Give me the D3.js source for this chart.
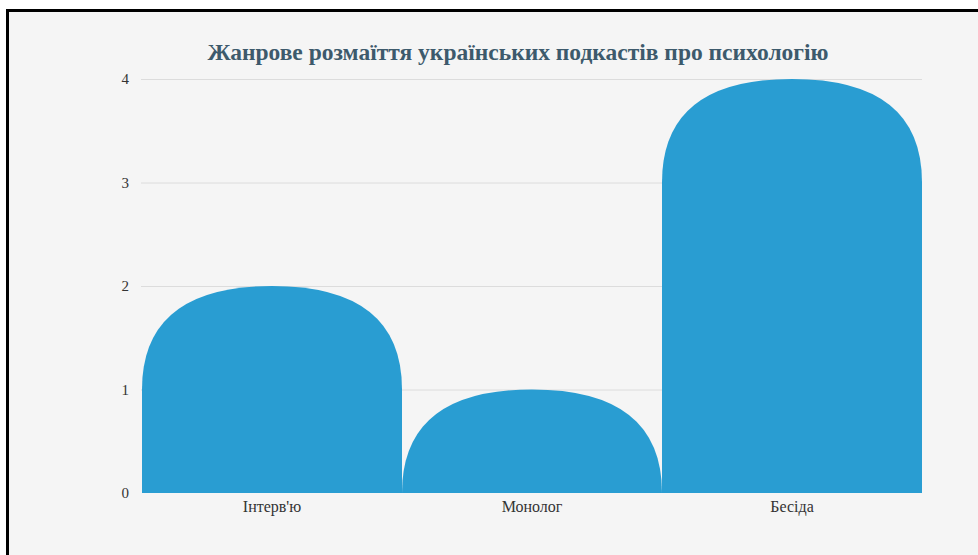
<!DOCTYPE html>
<html>
<head>
<meta charset="utf-8">
<script src="https://cdn.jsdelivr.net/npm/d3@7"></script>
<style>
  html, body { margin: 0; padding: 0; overflow: hidden; background: #fff; }
  .frame {
    position: absolute; left: 6px; top: 9px;
    width: 1100px; height: 700px;
    border: 3px solid #000; background: #f5f5f5;
  }
  svg { position: absolute; left: 0; top: 0; }
</style>
</head>
<body>
<div class="frame"></div>
<svg id="chart" width="978" height="555"></svg>
<script>
// Podcast genres and how many podcasts fall into each
const categories = ["Інтерв'ю", "Монолог", "Бесіда"];
const counts = [2, 1, 4];
const yTicks = [0, 1, 2, 3, 4];
const titleText = "Жанрове розмаїття українських подкастів про психологію";

const svg = d3.select("#chart");
const plot = { left: 142, right: 922, top: 79, bottom: 493 };
const serif = "'Liberation Serif', 'Times New Roman', serif";

const x = d3.scaleBand().domain(categories).range([plot.left, plot.right]).padding(0);
const y = d3.scaleLinear().domain([0, 4]).range([plot.bottom, plot.top]);

// horizontal gridlines
svg.append("g")
  .selectAll("line")
  .data(yTicks.filter(d => d > 0))
  .join("line")
  .attr("x1", plot.left - 1).attr("x2", plot.right)
  .attr("y1", d => y(d) + 0.5).attr("y2", d => y(d) + 0.5)
  .attr("stroke", "#dcdcdc").attr("stroke-width", 1);

// y axis labels
const yAxis = d3.axisLeft(y).tickValues(yTicks).tickSize(0).tickPadding(0).tickFormat(d3.format("d"));
const ya = svg.append("g").attr("transform", `translate(${plot.left - 13},0)`).call(yAxis);
ya.select(".domain").remove();
ya.selectAll("text")
  .attr("font-family", serif).attr("font-size", 15).attr("fill", "#333");

// bars with a rounded cap one unit tall (quadratic corners)
const capH = y(0) - y(1);
function barPath(d, i) {
  const x0 = x(categories[i]);
  const w = x.bandwidth();
  const top = y(d);
  const base = y(0);
  const ry = Math.min(capH, base - top);
  const mid = x0 + w / 2;
  return `M${x0},${base} L${x0},${top + ry} Q${x0},${top} ${mid},${top} ` +
         `Q${x0 + w},${top} ${x0 + w},${top + ry} L${x0 + w},${base} Z`;
}
svg.append("g")
  .selectAll("path")
  .data(counts)
  .join("path")
  .attr("d", barPath)
  .attr("fill", "#299dd2");

// x axis labels
const xAxis = d3.axisBottom(x).tickSize(0).tickPadding(0);
const xa = svg.append("g").attr("transform", `translate(0,${plot.bottom + 8})`).call(xAxis);
xa.select(".domain").remove();
xa.selectAll("text")
  .attr("font-family", serif).attr("font-size", 16).attr("fill", "#333");

// title
svg.append("text")
  .attr("x", 518).attr("y", 60)
  .attr("text-anchor", "middle")
  .attr("font-family", serif).attr("font-weight", "bold").attr("font-size", 23.5)
  .attr("fill", "#3d5a6c")
  .text(titleText);
</script>
</body>
</html>
